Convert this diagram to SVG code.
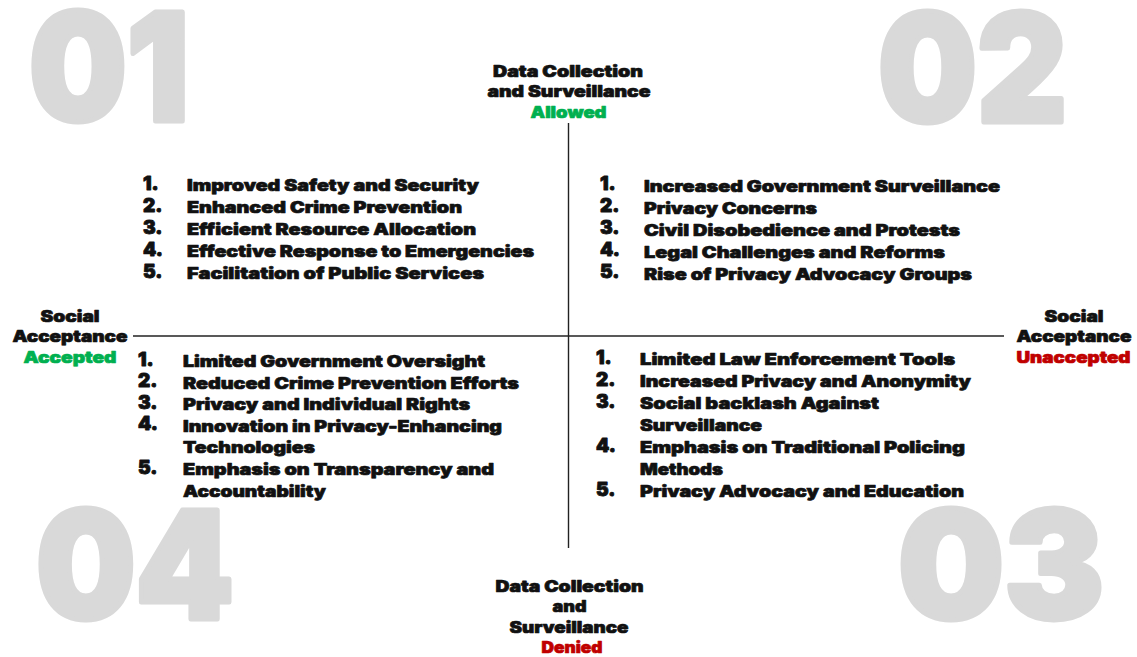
<svg xmlns="http://www.w3.org/2000/svg" width="1137" height="657" viewBox="0 0 1137 657">
  <style>
    text { font-family: Inter, "DejaVu Sans", "Liberation Sans", sans-serif; font-weight: 900; fill: #111; stroke: #111; stroke-width: 0.7; stroke-linejoin: round; }
    .big { font-size: 150px; fill: #d9d9d9; stroke: #d9d9d9; stroke-width: 5; }
    .lbl { font-size: 16px; text-anchor: middle; }
    .item { font-size: 16px; }
    .num { font-size: 19px; stroke-width: 0.9; }
    .ok { fill: #00b050; stroke: #00b050; }
    .no { fill: #c00000; stroke: #c00000; }
    .axis { stroke: #222; stroke-width: 1.4; fill: none; }
  </style>

  <rect width="1137" height="657" fill="#ffffff"/>

  <!-- quadrant numbers -->
  <g id="quadrant-numbers">
    <text class="big" x="29" y="121" textLength="160" lengthAdjust="spacingAndGlyphs">01</text>
    <text class="big" x="878" y="122" textLength="189" lengthAdjust="spacingAndGlyphs">02</text>
    <text class="big" x="36" y="619" textLength="198" lengthAdjust="spacingAndGlyphs">04</text>
    <text class="big" x="898" y="619" textLength="206" lengthAdjust="spacingAndGlyphs">03</text>
  </g>

  <!-- axes -->
  <g id="connectors">
    <line class="axis" x1="568.5" y1="123" x2="568.5" y2="548"/>
    <line class="axis" x1="133" y1="336" x2="1004" y2="336"/>
  </g>

  <!-- axis labels -->
  <g id="label-top">
    <text class="lbl" x="568" y="77" textLength="150" lengthAdjust="spacingAndGlyphs">Data Collection</text>
    <text class="lbl" x="569" y="97" textLength="163" lengthAdjust="spacingAndGlyphs">and Surveillance</text>
    <text class="lbl ok" x="568.5" y="118" textLength="76" lengthAdjust="spacingAndGlyphs">Allowed</text>
  </g>
  <g id="label-bottom">
    <text class="lbl" x="569.5" y="592" textLength="148" lengthAdjust="spacingAndGlyphs">Data Collection</text>
    <text class="lbl" x="569.5" y="612" textLength="34" lengthAdjust="spacingAndGlyphs">and</text>
    <text class="lbl" x="569" y="633" textLength="119" lengthAdjust="spacingAndGlyphs">Surveillance</text>
    <text class="lbl no" x="572" y="653" textLength="61" lengthAdjust="spacingAndGlyphs">Denied</text>
  </g>
  <g id="label-left">
    <text class="lbl" x="70" y="322" textLength="59" lengthAdjust="spacingAndGlyphs">Social</text>
    <text class="lbl" x="70" y="342" textLength="115" lengthAdjust="spacingAndGlyphs">Acceptance</text>
    <text class="lbl ok" x="70" y="363" textLength="93" lengthAdjust="spacingAndGlyphs">Accepted</text>
  </g>
  <g id="label-right">
    <text class="lbl" x="1074" y="322" textLength="59" lengthAdjust="spacingAndGlyphs">Social</text>
    <text class="lbl" x="1074" y="342" textLength="115" lengthAdjust="spacingAndGlyphs">Acceptance</text>
    <text class="lbl no" x="1073.5" y="363" textLength="114" lengthAdjust="spacingAndGlyphs">Unaccepted</text>
  </g>

  <!-- quadrant 01: allowed + accepted -->
  <g id="quadrant-01">
    <text class="num" x="143" y="190">1.</text>
    <text class="num" x="143" y="212">2.</text>
    <text class="num" x="143" y="234">3.</text>
    <text class="num" x="143" y="256">4.</text>
    <text class="num" x="143" y="278">5.</text>
    <text class="item" x="187" y="191" textLength="292" lengthAdjust="spacingAndGlyphs">Improved Safety and Security</text>
    <text class="item" x="187" y="213" textLength="275" lengthAdjust="spacingAndGlyphs">Enhanced Crime Prevention</text>
    <text class="item" x="187" y="235" textLength="289" lengthAdjust="spacingAndGlyphs">Efficient Resource Allocation</text>
    <text class="item" x="187" y="257" textLength="347" lengthAdjust="spacingAndGlyphs">Effective Response to Emergencies</text>
    <text class="item" x="187" y="279" textLength="297" lengthAdjust="spacingAndGlyphs">Facilitation of Public Services</text>
  </g>

  <!-- quadrant 02: allowed + unaccepted -->
  <g id="quadrant-02">
    <text class="num" x="600" y="190">1.</text>
    <text class="num" x="600" y="212">2.</text>
    <text class="num" x="600" y="234">3.</text>
    <text class="num" x="600" y="256">4.</text>
    <text class="num" x="600" y="278">5.</text>
    <text class="item" x="644" y="192" textLength="356" lengthAdjust="spacingAndGlyphs">Increased Government Surveillance</text>
    <text class="item" x="644" y="214" textLength="173" lengthAdjust="spacingAndGlyphs">Privacy Concerns</text>
    <text class="item" x="644" y="236" textLength="316" lengthAdjust="spacingAndGlyphs">Civil Disobedience and Protests</text>
    <text class="item" x="644" y="258" textLength="301" lengthAdjust="spacingAndGlyphs">Legal Challenges and Reforms</text>
    <text class="item" x="644" y="280" textLength="328" lengthAdjust="spacingAndGlyphs">Rise of Privacy Advocacy Groups</text>
  </g>

  <!-- quadrant 03: denied + unaccepted -->
  <g id="quadrant-03">
    <text class="num" x="596" y="364">1.</text>
    <text class="num" x="596" y="386">2.</text>
    <text class="num" x="596" y="408">3.</text>
    <text class="num" x="596" y="452">4.</text>
    <text class="num" x="596" y="496">5.</text>
    <text class="item" x="640" y="365" textLength="315" lengthAdjust="spacingAndGlyphs">Limited Law Enforcement Tools</text>
    <text class="item" x="640" y="387" textLength="331" lengthAdjust="spacingAndGlyphs">Increased Privacy and Anonymity</text>
    <text class="item" x="640" y="409" textLength="239" lengthAdjust="spacingAndGlyphs">Social backlash Against</text>
    <text class="item" x="640" y="431" textLength="122" lengthAdjust="spacingAndGlyphs">Surveillance</text>
    <text class="item" x="640" y="453" textLength="325" lengthAdjust="spacingAndGlyphs">Emphasis on Traditional Policing</text>
    <text class="item" x="640" y="475" textLength="83" lengthAdjust="spacingAndGlyphs">Methods</text>
    <text class="item" x="640" y="497" textLength="324" lengthAdjust="spacingAndGlyphs">Privacy Advocacy and Education</text>
  </g>

  <!-- quadrant 04: denied + accepted -->
  <g id="quadrant-04">
    <text class="num" x="138" y="366">1.</text>
    <text class="num" x="138" y="387">2.</text>
    <text class="num" x="138" y="409">3.</text>
    <text class="num" x="138" y="430">4.</text>
    <text class="num" x="138" y="474">5.</text>
    <text class="item" x="183" y="367" textLength="302" lengthAdjust="spacingAndGlyphs">Limited Government Oversight</text>
    <text class="item" x="183" y="388.5" textLength="336" lengthAdjust="spacingAndGlyphs">Reduced Crime Prevention Efforts</text>
    <text class="item" x="183" y="410" textLength="287" lengthAdjust="spacingAndGlyphs">Privacy and Individual Rights</text>
    <text class="item" x="183" y="431.5" textLength="319" lengthAdjust="spacingAndGlyphs">Innovation in Privacy-Enhancing</text>
    <text class="item" x="183" y="453" textLength="132" lengthAdjust="spacingAndGlyphs">Technologies</text>
    <text class="item" x="183" y="475" textLength="311" lengthAdjust="spacingAndGlyphs">Emphasis on Transparency and</text>
    <text class="item" x="183" y="497" textLength="143" lengthAdjust="spacingAndGlyphs">Accountability</text>
  </g>
</svg>
